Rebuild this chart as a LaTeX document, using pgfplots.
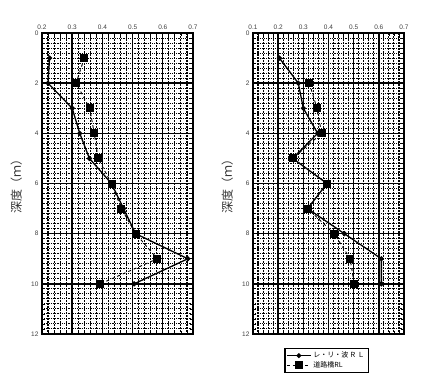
\documentclass[border=0pt]{standalone}
\usepackage{fontspec}
\setmainfont{Liberation Sans}
\newfontfamily\jp{Noto Sans CJK JP}
\usepackage{pgfplots}
\pgfplotsset{compat=1.18}
\begin{document}
\begin{tikzpicture}
\path[use as bounding box] (0,0) rectangle (422pt,376pt);
\pgfplotsset{
 myax/.style={
  scale only axis, width=151pt, height=301pt, anchor=south west,
  y dir=reverse, ymin=0, ymax=12, ytick={0,2,...,12}, xmax=0.7,
  xticklabel pos=top,
  /pgf/number format/assume math mode=true,
  /pgf/number format/fixed, /pgf/number format/precision=1,
  ticklabel style={font=\fontsize{6.5}{7}\selectfont, text=black!75},
  minor x tick num=4, minor y tick num=9,
  grid=both,
  major grid style={black, line width=1.4pt},
  minor x grid style={black, dash pattern=on 2.2pt off 0.8pt, line width=1.1pt},
  minor y grid style={black, dash pattern=on 1.2pt off 1pt, line width=1pt},
  axis line style={black, line width=1.4pt},
  tick style={black, line width=0.8pt},
  ylabel={\jp 深度（ｍ）},
  ylabel style={font=\fontsize{12}{12}\selectfont, at={(axis description cs:-0.17,0.5)}, anchor=center, text=black!80},
  every axis plot/.append style={black},
 },
 s1/.style={solid, line width=1.3pt, mark=*, mark size=1.9pt, mark options={solid}},
 s2/.style={dashed, line width=0.9pt, mark=square*, mark size=3.5pt, mark options={solid}},
}
\begin{axis}[myax, at={(42pt,42pt)}, xmin=0.2, xtick={0.2,0.3,...,0.7}]
\addplot[s1] coordinates {(0.225,1) (0.22,2) (0.3,3) (0.325,4) (0.357,5) (0.43,6) (0.47,7) (0.51,8) (0.683,9) (0.505,10)};
\addplot[s2] coordinates {(0.34,1) (0.313,2) (0.358,3) (0.373,4) (0.386,5) (0.43,6) (0.463,7) (0.51,8) (0.582,9) (0.393,10)};
\end{axis}
\begin{axis}[myax, at={(253pt,42pt)}, xmin=0.1, xtick={0.1,0.2,...,0.7},
  legend style={at={(0.487,-0.046)}, anchor=north, draw=black, line width=1.2pt, font=\jp\fontsize{7}{8}\selectfont, inner sep=1.5pt, row sep=-2pt},
  legend image post style={line width=1pt},
  legend image code/.code={\draw[mark repeat=2,mark phase=2] plot coordinates {(0cm,0cm) (0.42cm,0cm) (0.84cm,0cm)};},
  legend cell align=left]
\addplot[s1] coordinates {(0.205,1) (0.28,2) (0.3,3) (0.357,4) (0.258,5) (0.394,6) (0.317,7) (0.463,8) (0.61,9) (0.61,10)};
\addlegendentry{レ・リ・波\,Ｒ\,Ｌ}
\addplot[s2] coordinates {(0.324,2) (0.354,3) (0.373,4) (0.258,5) (0.394,6) (0.317,7) (0.423,8) (0.486,9) (0.502,10)};
\addlegendentry{道路橋RL}
\end{axis}
\end{tikzpicture}
\end{document}
